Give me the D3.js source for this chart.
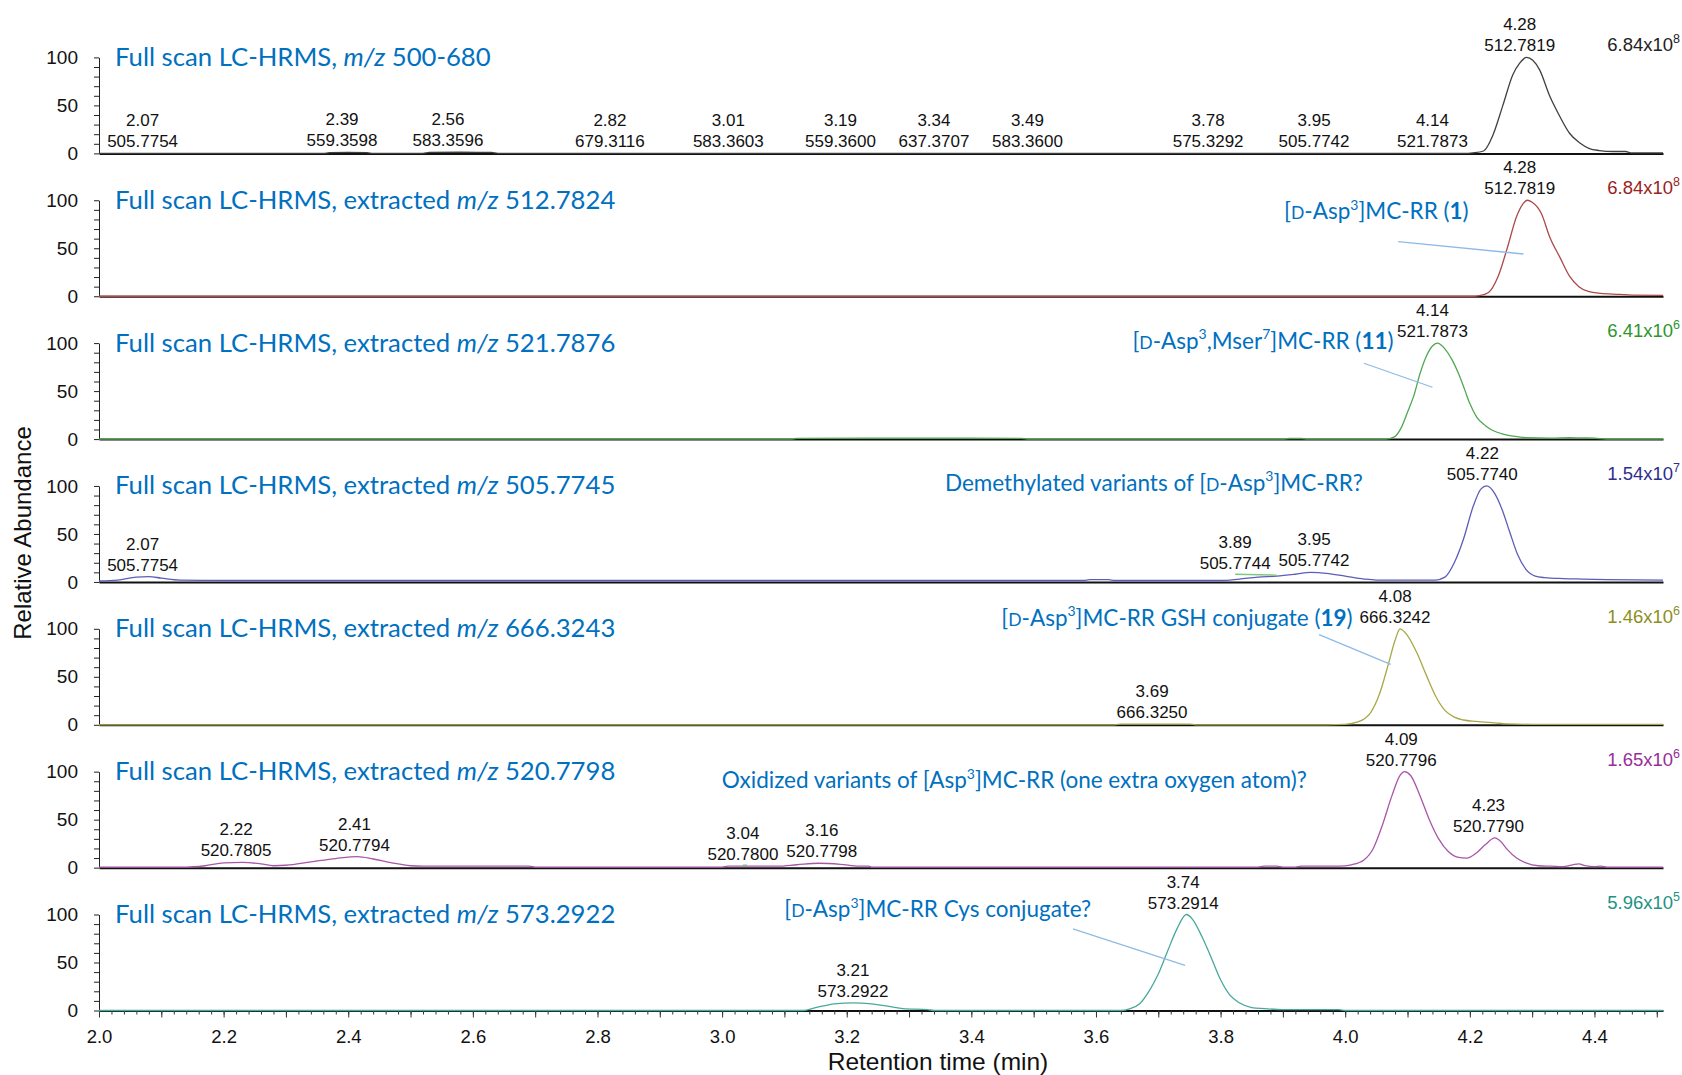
<!DOCTYPE html>
<html>
<head>
<meta charset="utf-8">
<script src="https://cdn.jsdelivr.net/npm/d3@7"></script>
<style>
  body { margin: 0; background: #fff; }
  svg { display: block; }
</style>
</head>
<body>
<svg id="chart" width="1682" height="1075"></svg>
<script>
// ---- Axes ----
const retentionDomain = [2.0, 4.51];
const retentionTicks = [2.0, 2.2, 2.4, 2.6, 2.8, 3.0, 3.2, 3.4, 3.6, 3.8, 4.0, 4.2, 4.4];
const abundanceTicks = [0, 50, 100];

// ---- Chromatogram panels ----
const panelMz = ["500-680", "512.7824", "521.7876", "505.7745", "666.3243", "520.7798", "573.2922"];
const panelExtracted = [false, true, true, true, true, true, true];
const traceColors = ["#404040", "#ac4a4a", "#4fa84f", "#5c5cba", "#a8a848", "#a856a8", "#48a89c"];
const levelColors = ["#222222", "#9a2222", "#2c962c", "#2e2e8e", "#8e8e1e", "#982e98", "#1f9284"];
const levelMantissa = ["6.84", "6.84", "6.41", "1.54", "1.46", "1.65", "5.96"];
const levelExponent = ["8", "8", "6", "7", "6", "6", "5"];

// Relative abundance (%) versus retention time (min)
const traceFullScan = [
  [2.00, 0], [2.36, 0], [2.37, 0.8], [2.40, 1.0], [2.43, 0.8], [2.44, 0], [2.52, 0], [2.53, 1.0],
  [2.58, 1.2], [2.63, 1.0], [2.64, 0], [4.19, 0], [4.205, 0.6], [4.222, 2.5], [4.237, 19], [4.253, 50],
  [4.269, 82], [4.280, 94], [4.291, 100], [4.301, 97], [4.312, 87], [4.328, 60], [4.344, 39],
  [4.360, 21], [4.376, 11], [4.392, 5], [4.408, 3], [4.43, 2], [4.45, 2], [4.458, 0.6], [4.51, 0.6]
];
const trace5128 = [
  [2.00, 0], [4.205, 0], [4.215, 0.6], [4.23, 4], [4.245, 20], [4.26, 50], [4.275, 83], [4.285, 96],
  [4.292, 100], [4.30, 98], [4.315, 86], [4.328, 62], [4.345, 40], [4.36, 21], [4.375, 10],
  [4.39, 5], [4.41, 3], [4.44, 2], [4.46, 1.2], [4.51, 1]
];
const trace5218 = [
  [2.00, 0], [3.11, 0], [3.12, 0.7], [3.30, 1.0], [3.48, 0.8], [3.49, 0], [3.90, 0], [3.91, 0.6],
  [3.93, 0.6], [3.94, 0], [4.065, 0], [4.078, 2], [4.09, 12], [4.10, 28], [4.11, 45], [4.12, 68],
  [4.13, 86], [4.14, 97], [4.148, 100], [4.16, 94], [4.172, 82], [4.182, 68], [4.192, 51],
  [4.20, 37], [4.211, 23], [4.225, 14], [4.237, 9], [4.255, 5], [4.27, 3], [4.29, 1.5],
  [4.33, 1], [4.36, 1.5], [4.38, 1.2], [4.40, 1], [4.42, 0], [4.51, 0]
];
const trace5057 = [
  [2.00, 1], [2.03, 2], [2.06, 5], [2.08, 5.5], [2.10, 4], [2.13, 2], [2.20, 1.5], [3.58, 1.5],
  [3.59, 2.5], [3.62, 2.5], [3.63, 1.5], [3.80, 1.5], [3.83, 3], [3.86, 5], [3.89, 6], [3.92, 8],
  [3.945, 10], [3.97, 9], [4.00, 6], [4.03, 3], [4.05, 2], [4.145, 2], [4.16, 5], [4.175, 20],
  [4.19, 45], [4.205, 78], [4.218, 97], [4.227, 100], [4.24, 92], [4.252, 75], [4.264, 52],
  [4.277, 28], [4.29, 13], [4.305, 6], [4.32, 4.5], [4.35, 3.5], [4.38, 3], [4.42, 2.5], [4.51, 2]
];
const trace6663 = [
  [2.00, 0], [3.63, 0], [3.64, 0.8], [3.75, 0.8], [3.76, 0], [3.97, 0], [4.00, 0.5], [4.02, 3],
  [4.04, 12], [4.055, 32], [4.07, 65], [4.08, 88], [4.088, 100], [4.10, 93], [4.115, 75],
  [4.13, 52], [4.145, 30], [4.16, 15], [4.175, 8], [4.19, 5], [4.21, 3.5], [4.24, 2], [4.26, 1],
  [4.30, 0.5], [4.51, 0.5]
];
const trace5207 = [
  [2.00, 0.5], [2.14, 0.5], [2.17, 2], [2.20, 5], [2.23, 5.5], [2.26, 4], [2.28, 2], [2.30, 2.5],
  [2.34, 6], [2.38, 9.5], [2.415, 11.5], [2.44, 9], [2.47, 5], [2.50, 2], [2.52, 1.5], [2.69, 1.5],
  [2.70, 0.5], [3.00, 0.5], [3.01, 1.5], [3.09, 1.5], [3.12, 3], [3.155, 4.6], [3.19, 3.5],
  [3.22, 1.5], [3.235, 1.5], [3.24, 0.5], [3.86, 0.5], [3.87, 1.5], [3.89, 1.5], [3.90, 0.5],
  [3.92, 0.5], [3.93, 1.5], [3.99, 1.5], [4.01, 3], [4.03, 8], [4.045, 20], [4.06, 45], [4.075, 75],
  [4.088, 96], [4.095, 100], [4.105, 96], [4.12, 75], [4.135, 50], [4.15, 30], [4.165, 17],
  [4.18, 11], [4.195, 10], [4.21, 15], [4.225, 24], [4.24, 31], [4.25, 27], [4.26, 19],
  [4.275, 10], [4.29, 5], [4.31, 2], [4.33, 1.5], [4.35, 1], [4.365, 3], [4.375, 4], [4.385, 2],
  [4.40, 1], [4.41, 1.5], [4.42, 0.5], [4.51, 0.5]
];
const trace5732 = [
  [2.00, 0], [3.13, 0], [3.15, 3], [3.18, 7], [3.21, 8], [3.24, 7], [3.27, 4], [3.29, 2], [3.33, 1],
  [3.34, 0], [3.64, 0], [3.655, 2], [3.67, 7], [3.685, 20], [3.70, 38], [3.715, 62], [3.73, 85],
  [3.745, 100], [3.755, 95], [3.77, 77], [3.785, 55], [3.80, 32], [3.815, 16], [3.83, 8],
  [3.85, 3], [3.87, 2], [3.90, 1], [3.99, 1], [4.00, 0], [4.51, 0]
];
const traces = [traceFullScan, trace5128, trace5218, trace5057, trace6663, trace5207, trace5732];

// Peak labels: retention time (min) and m/z
const peaksFullScan = [
  [2.07, 505.7754], [2.39, 559.3598], [2.56, 583.3596], [2.82, 679.3116], [3.01, 583.3603],
  [3.19, 559.3600], [3.34, 637.3707], [3.49, 583.3600], [3.78, 575.3292], [3.95, 505.7742],
  [4.14, 521.7873], [4.28, 512.7819]
];
const peaks5128 = [[4.28, 512.7819]];
const peaks5218 = [[4.14, 521.7873]];
const peaks5057 = [[2.07, 505.7754], [3.89, 505.7744], [3.95, 505.7742], [4.22, 505.7740]];
const peaks6663 = [[3.69, 666.3250], [4.08, 666.3242]];
const peaks5207 = [[2.22, 520.7805], [2.41, 520.7794], [3.04, 520.7800], [3.16, 520.7798],
  [4.09, 520.7796], [4.23, 520.7790]];
const peaks5732 = [[3.21, 573.2922], [3.74, 573.2914]];
const peakLabels = [peaksFullScan, peaks5128, peaks5218, peaks5057, peaks6663, peaks5207, peaks5732];

// Compound annotations (rich text segments: "sc" small caps, "sup" superscript, "b" bold)
const annotationText = [
  [["[", ""], ["D", "sc"], ["-Asp", ""], ["3", "sup"], ["]MC-RR (", ""], ["1", "b"], [")", ""]],
  [["[", ""], ["D", "sc"], ["-Asp", ""], ["3", "sup"], [",Mser", ""], ["7", "sup"], ["]MC-RR (", ""], ["11", "b"], [")", ""]],
  [["Demethylated variants of [", ""], ["D", "sc"], ["-Asp", ""], ["3", "sup"], ["]MC-RR?", ""]],
  [["[", ""], ["D", "sc"], ["-Asp", ""], ["3", "sup"], ["]MC-RR GSH conjugate (", ""], ["19", "b"], [")", ""]],
  [["Oxidized variants of [Asp", ""], ["3", "sup"], ["]MC-RR (one extra oxygen atom)?", ""]],
  [["[", ""], ["D", "sc"], ["-Asp", ""], ["3", "sup"], ["]MC-RR Cys conjugate?", ""]]
];
const annotationPanel = [1, 2, 3, 4, 5, 6];
const annotationAnchor = [[4.05, 80], [3.868, 94], [3.693, 95], [3.73, 103], [3.469, 83], [3.346, 97]];
const leaderStart = [[4.085, 57], [4.03, 79], null, [3.958, 94], null, [3.563, 85]];
const leaderEnd = [[4.286, 44], [4.14, 54], null, [4.073, 63], null, [3.743, 47]];

// ---- Layout ----
const svg = d3.select("#chart");
const plotLeft = 99, plotRight = 1663;
const firstTop = 57.4, panelStep = 142.85, panelHeight = 96;
const blue = "#0070c0";
const sansCal = "Lato, 'Open Sans', sans-serif";
const sansArial = "Arial, 'Liberation Sans', sans-serif";
const titleSize = 25.7, noteSize = 22.5, labelSize = 17;

const x = d3.scaleLinear().domain(retentionDomain).range([plotLeft, plotRight]);

function valueAt(trace, t) {
  return d3.scaleLinear().domain(trace.map(d => d[0])).range(trace.map(d => d[1])).clamp(true)(t);
}
function valueNear(trace, t) {
  // highest point of the trace within a small window around t
  let best = 0;
  for (let k = -3; k <= 3; k++) best = Math.max(best, valueAt(trace, t + k * 0.005));
  trace.forEach(d => { if (Math.abs(d[0] - t) <= 0.015) best = Math.max(best, d[1]); });
  return best;
}

function richText(sel, segs, size) {
  let raised = false;
  segs.forEach(([t, s]) => {
    const ts = sel.append("tspan").text(t);
    if (raised && s !== "sup") { ts.attr("dy", size * 0.42); raised = false; }
    if (s === "sc") ts.attr("font-size", size * 0.78);
    if (s === "sup") { ts.attr("font-size", size * 0.62).attr("dy", -size * 0.42); raised = true; }
    if (s === "b") ts.attr("font-weight", "bold");
  });
}

panelMz.forEach((mz, i) => {
  const top = firstTop + i * panelStep;
  const y = d3.scaleLinear().domain([0, 100]).range([top + panelHeight, top]);
  const g = svg.append("g");

  // y axis with minor ticks every 10 %
  const yAxis = d3.axisLeft(y).tickValues(d3.range(0, 101, 10)).tickSize(5).tickSizeOuter(0)
    .tickFormat(d => abundanceTicks.includes(d) ? d : "");
  const ya = g.append("g").attr("transform", `translate(${plotLeft},0)`).call(yAxis);
  ya.selectAll("text").attr("font-family", sansArial).attr("font-size", 19).attr("fill", "#111").attr("x", -21);
  ya.selectAll("line, path").attr("stroke", "#222");

  // baseline / time axis
  const xa = g.append("g").attr("transform", `translate(0,${y(0)})`);
  if (i === panelMz.length - 1) {
    const minor = d3.range(200, 451, 2).map(v => v / 100);
    const mid = d3.range(20, 46, 1).map(v => v / 10);
    xa.call(d3.axisBottom(x).tickValues(minor).tickSize(4).tickSizeOuter(0).tickFormat(""));
    const xb = g.append("g").attr("transform", `translate(0,${y(0)})`)
      .call(d3.axisBottom(x).tickValues(mid).tickSize(7).tickSizeOuter(0)
        .tickFormat(d => retentionTicks.some(r => Math.abs(r - d) < 1e-6) ? d.toFixed(1) : ""));
    xb.select(".domain").remove();
    xb.selectAll("text").attr("font-family", sansArial).attr("font-size", 18.5).attr("fill", "#111").attr("dy", "1.2em");
    xb.selectAll("line").attr("stroke", "#333");
    xa.selectAll("line").attr("stroke", "#333");
  } else {
    xa.call(d3.axisBottom(x).tickValues([]).tickSizeOuter(0));
  }
  xa.select(".domain").attr("stroke", "#111").attr("stroke-width", 2);

  // chromatogram trace
  const line = d3.line().x(d => x(d[0])).y(d => y(d[1])).curve(d3.curveMonotoneX);
  g.append("path").datum(traces[i]).attr("d", line).attr("fill", "none")
    .attr("stroke", traceColors[i]).attr("stroke-width", 1.3);

  // panel title
  const title = g.append("text").attr("x", 115).attr("y", top + 8.5)
    .attr("font-family", sansCal).attr("font-size", titleSize).attr("fill", blue);
  title.append("tspan").text(panelExtracted[i] ? "Full scan LC-HRMS, extracted " : "Full scan LC-HRMS, ");
  title.append("tspan").attr("font-style", "italic").text("m/z");
  title.append("tspan").text(" " + mz);

  // normalisation level
  const nl = g.append("text").attr("x", 1680).attr("y", top - 6).attr("text-anchor", "end")
    .attr("font-family", sansArial).attr("font-size", 18.5).attr("fill", levelColors[i]);
  nl.append("tspan").text(levelMantissa[i] + "x10");
  nl.append("tspan").attr("font-size", 12.5).attr("dy", -8).text(levelExponent[i]);

  // peak labels, pushed apart where they would collide; the lower peak's label gives way
  const labs = peakLabels[i].map(([rt, m]) => {
    const v = valueNear(traces[i], rt);
    const node = g.append("text").attr("text-anchor", "middle").attr("font-family", sansArial)
      .attr("font-size", labelSize).attr("fill", "#111");
    const bottom = node.append("tspan").text(m.toFixed(4));
    const w = bottom.node().getComputedTextLength();
    node.append("tspan").text(rt.toFixed(2));
    return { rt, v, node, w, px: x(rt), cx: x(rt), base: y(v) - 6 };
  }).sort((a, b) => a.px - b.px);
  for (let pass = 0; pass < 20; pass++) {
    for (let k = 1; k < labs.length; k++) {
      const a = labs[k - 1], b = labs[k];
      if (Math.abs(a.base - b.base) > 40) continue;
      const need = (a.w + b.w) / 2 + 8 - (b.cx - a.cx);
      if (need > 0) { if (a.v <= b.v) a.cx -= need; else b.cx += need; }
    }
  }
  labs.forEach(l => {
    const sp = l.node.selectAll("tspan");
    sp.filter((d, j) => j === 0).attr("x", l.cx).attr("y", l.base);
    sp.filter((d, j) => j === 1).attr("x", l.cx).attr("y", l.base - 21);
    if (Math.abs(l.cx - l.px) > 4) {
      g.append("line").attr("x1", l.cx).attr("y1", l.base + 5)
        .attr("x2", l.px).attr("y2", y(valueAt(traces[i], l.rt)) - 1)
        .attr("stroke", "#80c880").attr("stroke-width", 1.5);
    }
  });
});

// compound annotations
annotationText.forEach((segs, k) => {
  const p = annotationPanel[k];
  const top = firstTop + p * panelStep;
  const y = d3.scaleLinear().domain([0, 100]).range([top + panelHeight, top]);
  if (leaderStart[k]) {
    svg.append("line")
      .attr("x1", x(leaderStart[k][0])).attr("y1", y(leaderStart[k][1]))
      .attr("x2", x(leaderEnd[k][0])).attr("y2", y(leaderEnd[k][1]))
      .attr("stroke", "#8dbbe6").attr("stroke-width", 1.3);
  }
  const t = svg.append("text").attr("x", x(annotationAnchor[k][0])).attr("y", y(annotationAnchor[k][1]))
    .attr("text-anchor", "middle").attr("font-family", sansCal).attr("font-size", noteSize).attr("fill", blue);
  richText(t, segs, noteSize);
});

// axis titles
svg.append("text").attr("transform", "translate(31,533) rotate(-90)").attr("text-anchor", "middle")
  .attr("font-family", sansArial).attr("font-size", 24).attr("fill", "#111").text("Relative Abundance");
svg.append("text").attr("x", 938).attr("y", 1070).attr("text-anchor", "middle")
  .attr("font-family", sansArial).attr("font-size", 24.5).attr("fill", "#111").text("Retention time (min)");
</script>
</body>
</html>
